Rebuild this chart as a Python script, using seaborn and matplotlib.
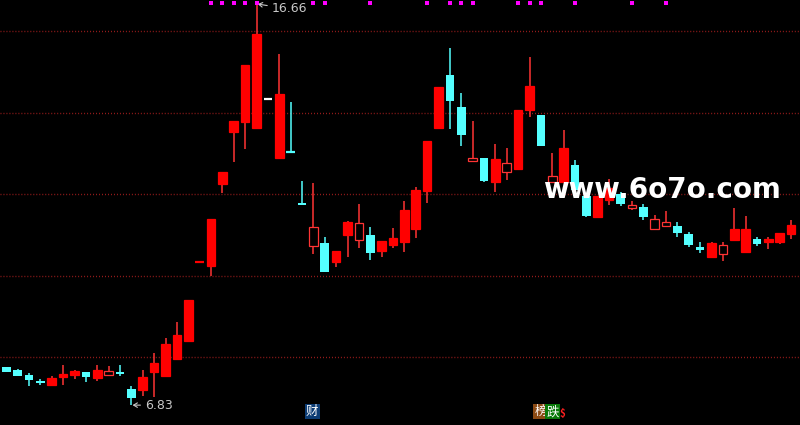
import numpy as np
import pandas as pd
import matplotlib
matplotlib.use("Agg")
import matplotlib.pyplot as plt
import seaborn as sns

# daily prices (open, high, low, close)
opens = [7.76, 7.69, 7.57, 7.42, 7.32, 7.52, 7.57, 7.64, 7.50, 7.57,
         7.64, 7.23, 7.20, 7.64, 7.54, 7.96, 8.40, 10.35, 10.24, 12.25,
         13.52, 13.77, 13.62, 14.34, 12.89, 13.03, 11.78, 10.73, 10.80, 10.34,
         11.00, 10.88, 11.00, 10.61, 10.76, 10.83, 11.15, 12.08, 13.62, 14.92,
         14.14, 12.81, 12.89, 12.30, 12.54, 12.62, 14.06, 13.94, 12.30, 12.30,
         12.72, 11.96, 11.44, 11.86, 12.01, 11.66, 11.69, 11.15, 11.22, 11.22,
         11.03, 10.71, 10.46, 10.53, 10.88, 10.58, 10.90, 10.83, 10.83, 11.03]
highs = [7.76, 7.72, 7.62, 7.47, 7.54, 7.81, 7.69, 7.64, 7.81, 7.79,
         7.81, 7.30, 7.69, 8.11, 8.48, 8.87, 9.41, 10.35, 11.39, 12.54,
         13.79, 15.17, 16.66, 14.34, 15.44, 14.26, 12.32, 12.27, 10.95, 10.61,
         11.34, 11.76, 11.20, 10.85, 11.17, 11.83, 12.18, 13.30, 14.63, 15.58,
         14.48, 13.79, 12.89, 13.23, 13.13, 14.06, 15.36, 13.94, 13.01, 13.57,
         12.84, 11.96, 11.96, 12.37, 12.05, 11.83, 11.76, 11.49, 11.59, 11.32,
         11.07, 10.83, 10.83, 10.83, 11.66, 11.47, 10.95, 10.95, 11.05, 11.37]
lows = [7.64, 7.54, 7.30, 7.32, 7.30, 7.32, 7.47, 7.40, 7.42, 7.57,
        7.54, 6.83, 7.05, 7.03, 7.54, 7.96, 8.40, 10.35, 9.99, 12.03,
        12.79, 13.11, 13.62, 14.34, 12.89, 13.03, 11.74, 10.53, 10.09, 10.22,
        10.46, 10.68, 10.39, 10.46, 10.68, 10.58, 10.93, 11.78, 13.62, 13.60,
        13.18, 12.79, 12.30, 12.05, 12.35, 12.62, 13.89, 13.18, 12.27, 12.30,
        12.10, 11.44, 11.44, 11.74, 11.71, 11.61, 11.37, 11.15, 11.22, 10.95,
        10.71, 10.56, 10.46, 10.36, 10.88, 10.58, 10.73, 10.66, 10.78, 10.90]
closes = [7.64, 7.54, 7.45, 7.37, 7.50, 7.59, 7.67, 7.52, 7.69, 7.67,
          7.59, 7.01, 7.52, 7.86, 8.33, 8.55, 9.41, 10.35, 11.39, 12.54,
          13.79, 15.17, 15.93, 14.34, 14.46, 13.03, 11.74, 11.20, 10.09, 10.61,
          11.32, 11.29, 10.56, 10.85, 10.93, 11.61, 12.10, 13.30, 14.63, 14.28,
          13.45, 12.89, 12.32, 12.86, 12.76, 14.06, 14.65, 13.18, 12.45, 13.13,
          12.10, 11.47, 11.96, 12.15, 11.76, 11.74, 11.44, 11.39, 11.32, 11.05,
          10.76, 10.63, 10.80, 10.76, 11.15, 11.15, 10.78, 10.90, 11.05, 11.25]

# days carrying the magenta signal dot at the top
signal_days = [18, 19, 20, 21, 22, 27, 28, 32, 37, 39, 40, 41, 45, 46, 47, 50, 55, 58]
grid_prices = [8, 10, 12, 14, 16]

df = pd.DataFrame({"open": opens, "high": highs, "low": lows, "close": closes})
df["day"] = np.arange(len(df))
df["prev"] = df["close"].shift(1).fillna(df["open"])

UP = "#ff0000"
UP_EDGE = "#ff3434"
DOWN = "#54ffff"

sns.set_theme(style="dark", rc={"axes.facecolor": "black", "figure.facecolor": "black"})
plt.rcParams["font.family"] = ["Noto Sans CJK SC", "DejaVu Sans"]

fig = plt.figure(figsize=(8, 4.25), dpi=100)
ax = fig.add_axes([0, 0, 1, 1])
ax.set_facecolor("black")

for p in grid_prices:
    ax.axhline(p, color="#9a1c1c", lw=1, linestyle=(0, (0.7, 1.45)), zorder=1)

w = 0.76
for _, r in df.iterrows():
    x, o, h, l, c = r["day"], r["open"], r["high"], r["low"], r["close"]
    top, bot = max(o, c), min(o, c)
    if c > o:
        hollow = c < r["prev"]
        col = UP_EDGE if hollow else UP
        ax.vlines(x, top, h, color=UP_EDGE, lw=1.1, zorder=2)
        ax.vlines(x, l, bot, color=UP_EDGE, lw=1.1, zorder=2)
        ax.bar(x, top - bot, bottom=bot, width=w,
               color="black" if hollow else UP, edgecolor=col, lw=0.9, zorder=3)
    elif c < o:
        ax.vlines(x, l, h, color=DOWN, lw=1.1, zorder=2)
        ax.bar(x, top - bot, bottom=bot, width=w, color=DOWN, lw=0, zorder=3)
    else:
        if c > r["prev"]:
            col = UP
        elif h == l:
            col = "white"
        else:
            col = DOWN
        ax.vlines(x, l, h, color=col, lw=1.1, zorder=2)
        ax.hlines(c, x - w / 2, x + w / 2, color=col, lw=1.6, zorder=3)

# signal dots along the top edge
sig = pd.DataFrame({"day": signal_days, "pos": [0.994] * len(signal_days)})
ax.scatter(sig["day"], sig["pos"], transform=ax.get_xaxis_transform(),
           marker="s", s=7, color="#ff00ff", lw=0, zorder=4, clip_on=False)

# max / min labels
hi_i = int(df["high"].idxmax())
lo_i = int(df["low"].idxmin())
arrow = dict(arrowstyle="->,head_length=0.3,head_width=0.18", color="#c8c8c8",
             lw=0.8, shrinkA=1, shrinkB=0)
ax.annotate(f"{df['high'].max():.2f}", xy=(hi_i + 0.1, df["high"].max()),
            xytext=(hi_i + 1.35, df["high"].max() - 0.12),
            color="#c8c8c8", fontsize=9, va="center", ha="left", family="DejaVu Sans",
            arrowprops=arrow)
ax.annotate(f"{df['low'].min():.2f}", xy=(lo_i + 0.1, df["low"].min()),
            xytext=(lo_i + 1.2, df["low"].min()),
            color="#c8c8c8", fontsize=9, va="center", ha="left", family="DejaVu Sans",
            arrowprops=arrow)

# watermark
ax.text(0.8275, 0.553, "www.6o7o.com", transform=ax.transAxes, ha="center", va="center",
        color="white", fontsize=20, fontweight="bold", family="DejaVu Sans", zorder=6)

# bottom tags
ax.text(0.39, 0.016, "财", transform=ax.transAxes, color="white", fontsize=9,
        ha="center", va="bottom", bbox=dict(boxstyle="square,pad=0.1", fc="#0c3c74", ec="none"))
ax.text(0.6755, 0.016, "榜", transform=ax.transAxes, color="white", fontsize=9,
        ha="center", va="bottom", bbox=dict(boxstyle="square,pad=0.1", fc="#8b4a14", ec="none"))
ax.text(0.6905, 0.016, "跌", transform=ax.transAxes, color="white", fontsize=9,
        ha="center", va="bottom", bbox=dict(boxstyle="square,pad=0.1", fc="#0a7a0a", ec="none"))
ax.text(0.7025, 0.014, "$", transform=ax.transAxes, color="#ff2020", fontsize=7,
        ha="center", va="bottom", fontweight="bold")

ax.set_xlim(-0.554, 69.78)
ax.set_ylim(6.343, 16.76)
ax.set_xticks([])
ax.set_yticks([])
for s in ax.spines.values():
    s.set_visible(False)
ax.grid(False)

fig.savefig("out.png", dpi=100, facecolor="black")
